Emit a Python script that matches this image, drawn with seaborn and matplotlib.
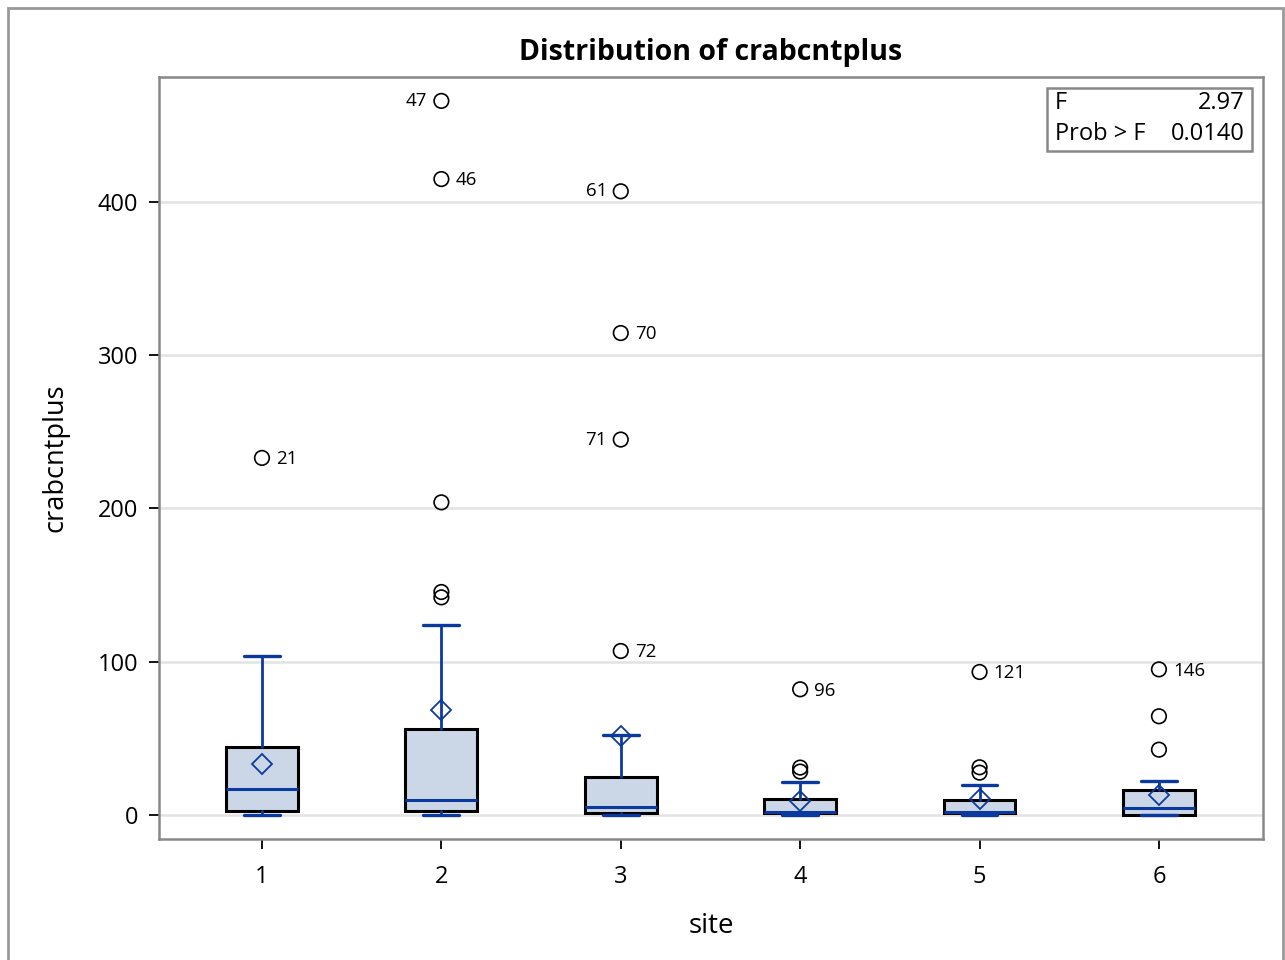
import matplotlib
matplotlib.use("Agg")
import matplotlib.pyplot as plt
import seaborn as sns
import pandas as pd
from matplotlib.patches import Rectangle

sites = ["1", "2", "3", "4", "5", "6"]
q1 = [2.6, 2.6, 1.1, 1.3, 1.3, 0.0]
median = [16.8, 10.0, 5.0, 1.8, 1.8, 4.4]
q3 = [44.6, 56.1, 24.6, 10.4, 9.6, 16.1]
whisker_low = [0.0, 0.0, 0.0, 0.0, 0.0, 0.0]
whisker_high = [103.8, 123.8, 52.2, 21.3, 19.4, 22.0]
means = [33.3, 68.5, 51.5, 9.1, 10.2, 12.8]

outlier_site = ["1", "2", "2", "2", "2", "2", "3", "3", "3", "3",
                "4", "4", "4", "5", "5", "5", "6", "6", "6"]
outlier_value = [233, 466, 415, 204, 145.5, 142, 407, 314.5, 245, 107,
                 82, 30.9, 28.3, 93.3, 31.1, 27.6, 95, 64.4, 42.6]
outlier_label = ["21", "47", "46", "", "", "", "61", "70", "71", "72",
                 "96", "", "", "121", "", "", "146", "", ""]
label_side = ["r", "l", "r", "", "", "", "l", "r", "l", "r",
              "r", "", "", "r", "", "", "r", "", ""]

f_stat = "2.97"
prob_f = "0.0140"

sns.set_theme(style="white")
plt.rcParams['font.family'] = ['Open Sans', 'DejaVu Sans']
plt.rcParams['text.color'] = 'black'
plt.rcParams['axes.labelcolor'] = 'black'

BLUE = "#0B3A9E"
FILL = "#CBD6E6"

fig = plt.figure(figsize=(12.85, 9.6), dpi=100)
ax = fig.add_axes([159/1285, 1 - 839/960, (1263-159)/1285, (839-77)/960])

stats = []
for i in range(len(sites)):
    stats.append(dict(label=sites[i], q1=q1[i], med=median[i], q3=q3[i],
                      whislo=whisker_low[i], whishi=whisker_high[i],
                      mean=means[i], fliers=[]))
pos = list(range(len(sites)))
ax.bxp(stats, positions=pos, widths=0.40, showmeans=True, patch_artist=True,
       showfliers=False, manage_ticks=False,
       boxprops=dict(facecolor=FILL, edgecolor="black", linewidth=2.2),
       medianprops=dict(color=BLUE, linewidth=2.2),
       whiskerprops=dict(color=BLUE, linewidth=2.0),
       capprops=dict(color=BLUE, linewidth=2.4),
       capwidths=0.2,
       meanprops=dict(marker="D", markerfacecolor="none", markeredgecolor=BLUE,
                      markersize=10, markeredgewidth=1.3),
       zorder=3)

df = pd.DataFrame({"site": outlier_site, "value": outlier_value})
df["x"] = df["site"].map({s: i for i, s in enumerate(sites)})
sns.scatterplot(data=df, x="x", y="value", ax=ax, marker="o", s=110,
                facecolor="none", edgecolor="black", linewidth=1.2, zorder=4)

for xi, yv, lab, side in zip(df["x"], outlier_value, outlier_label, label_side):
    if lab:
        if side == "r":
            ax.annotate(lab, (xi, yv), xytext=(10, -1), textcoords="offset points",
                        ha="left", va="center", fontsize=13.5, color="black")
        else:
            ax.annotate(lab, (xi, yv), xytext=(-10, 0), textcoords="offset points",
                        ha="right", va="center", fontsize=13.5, color="black")

ax.set_xlim(-0.574, 5.58)
ax.set_ylim(-15.7, 481.6)
ax.set_xticks(pos)
ax.set_xticklabels(sites)
ax.set_yticks([0, 100, 200, 300, 400])
ax.yaxis.grid(True, color="#E3E3E3", linewidth=1.8)
ax.set_axisbelow(True)
for sp in ax.spines.values():
    sp.set_color("#888888")
    sp.set_linewidth(1.8)
ax.tick_params(axis="both", which="both", length=7, width=1.3, color="black",
               labelsize=17, labelcolor="black", direction="out",
               bottom=True, left=True)
ax.tick_params(axis="x", pad=12)
ax.tick_params(axis="y", pad=8)
ax.set_xlabel("site", fontsize=20, labelpad=16)
ax.set_ylabel("crabcntplus", fontsize=19.5, labelpad=20)
ax.set_title("Distribution of crabcntplus", fontsize=20.5, fontweight="bold", pad=12,
             color="black")

# inset stats box
ax.add_patch(Rectangle((1047/1285, 1 - 151/960), (1252-1047)/1285, (151-88)/960,
                       transform=fig.transFigure, facecolor="white",
                       edgecolor="#888888", linewidth=1.8, zorder=5))
fig.text(1055/1285, 1 - 103/960, "F", fontsize=17, va="center", ha="left", zorder=6)
fig.text(1245/1285, 1 - 103/960, f_stat, fontsize=17, va="center", ha="right", zorder=6)
fig.text(1055/1285, 1 - 134/960, "Prob > F", fontsize=17, va="center", ha="left", zorder=6)
fig.text(1245/1285, 1 - 134/960, prob_f, fontsize=17, va="center", ha="right", zorder=6)

# outer frame
fig.patches.append(Rectangle((8/1285, -0.01), (1283-8)/1285, 1.01 - 8/960,
                             transform=fig.transFigure, fill=False,
                             edgecolor="#999999", linewidth=2.0))

fig.savefig("out.png", dpi=100)
